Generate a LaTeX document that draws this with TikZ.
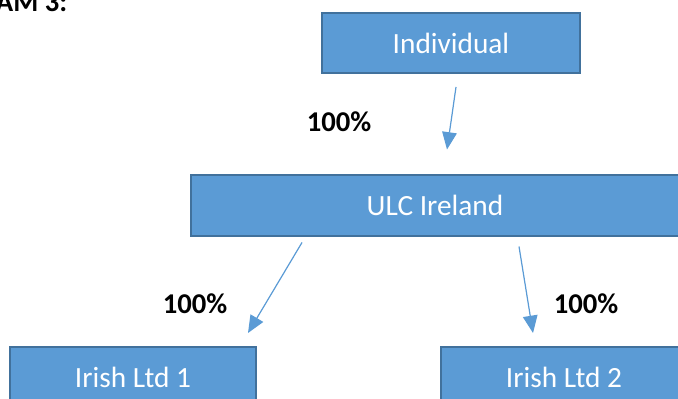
\documentclass[tikz,border=0pt]{standalone}
\usepackage{fontspec}
\setmainfont{Carlito}
\usetikzlibrary{arrows.meta,calc}
\definecolor{boxblue}{HTML}{5B9BD5}
\definecolor{boxedge}{HTML}{41719C}

\begin{document}
\begin{tikzpicture}[x=0.75pt, y=-0.75pt, >={Triangle[length=13pt,width=11pt]},
	   font=\fontsize{22}{26}\selectfont,
	   box/.style={draw=boxedge, fill=boxblue, line width=1.5pt, text=white, inner sep=0pt, minimum height=45pt},
	   conn/.style={->, draw=boxblue, fill=boxblue, line width=0.9pt},
	   pct/.style={font=\fontsize{21.5}{26}\selectfont\bfseries}]
	  \useasboundingbox (0,0) rectangle (678,399);
	  \node[pct, anchor=base east] (title) at (72,12) {AM 3:};
	  \node[box, minimum width=193.5pt] (ind) at (451,43) {Individual};
	  \node[box, minimum width=366pt] (ulc) at (435,205.5) {ULC Ireland};
	  \node[box, minimum width=184.5pt] (ltd1) at (133,377) {Irish Ltd 1};
	  \node[box, minimum width=184.5pt] (ltd2) at (564,377) {Irish Ltd 2};
	  \draw[conn] ($(ind.south)+(5,13)$) -- ($(ulc.north)+(12,-25)$);
	  \draw[conn] ($(ulc.south)+(-133,6)$) -- ($(ltd1.north)+(115,-13)$);
	  \draw[conn] ($(ulc.south)+(84,10)$) -- ($(ltd2.north)+(-31,-13)$);
	  \node[pct] (p1) at (339,122) {100\%};
	  \node[pct] (p2) at (195,304) {100\%};
	  \node[pct] (p3) at (586,304) {100\%};
	\end{tikzpicture}
\end{document}
